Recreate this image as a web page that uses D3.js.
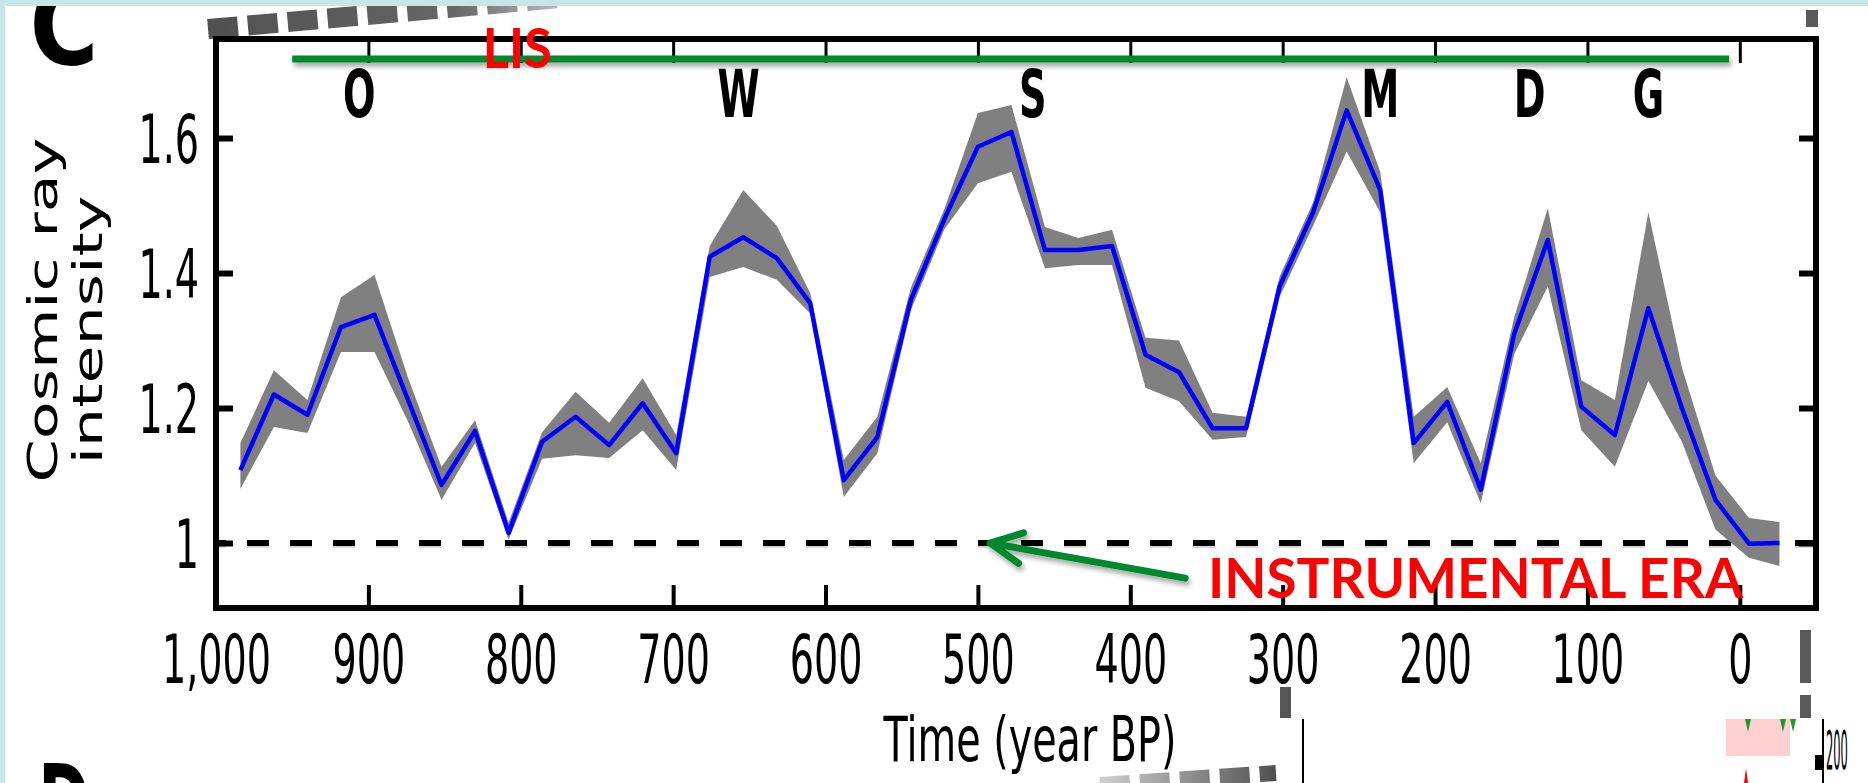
<!DOCTYPE html>
<html>
<head>
<meta charset="utf-8">
<script src="https://cdn.jsdelivr.net/npm/d3@7"></script>
<style>
  html, body { margin: 0; padding: 0; background: #fff; }
  svg { display: block; }
</style>
</head>
<body>
<div id="app"></div>
<script>
// ---- data ----
const years = [984, 962, 940, 918, 896, 874, 852, 830, 808, 786, 764, 742, 720, 698,
  676, 654, 632, 610, 588, 566, 544, 522, 500, 478, 456, 434, 412, 390, 368, 346,
  324, 302, 280, 258, 236, 214, 192, 170, 148, 126, 104, 82, 60, 38, 16, -6, -26];
const intensity = [1.108, 1.220, 1.190, 1.320, 1.338, 1.212, 1.086, 1.166, 1.015, 1.150,
  1.187, 1.145, 1.207, 1.133, 1.424, 1.453, 1.422, 1.355, 1.093, 1.157, 1.360, 1.480,
  1.587, 1.609, 1.434, 1.434, 1.440, 1.279, 1.253, 1.170, 1.170, 1.380, 1.490, 1.641,
  1.523, 1.148, 1.209, 1.079, 1.310, 1.449, 1.202, 1.160, 1.348, 1.200, 1.064, 0.999, 1.000];
const lower = [1.080, 1.172, 1.163, 1.283, 1.283, 1.180, 1.064, 1.148, 1.005, 1.125,
  1.130, 1.126, 1.167, 1.108, 1.394, 1.409, 1.390, 1.340, 1.068, 1.133, 1.345, 1.465,
  1.533, 1.550, 1.407, 1.412, 1.412, 1.230, 1.210, 1.153, 1.157, 1.365, 1.470, 1.580,
  1.490, 1.118, 1.179, 1.059, 1.280, 1.380, 1.167, 1.113, 1.240, 1.150, 1.020, 0.978, 0.966];
const upper = [1.148, 1.256, 1.212, 1.364, 1.397, 1.245, 1.113, 1.182, 1.030, 1.164,
  1.224, 1.178, 1.244, 1.160, 1.440, 1.523, 1.470, 1.370, 1.123, 1.187, 1.378, 1.495,
  1.637, 1.649, 1.468, 1.452, 1.464, 1.304, 1.300, 1.193, 1.187, 1.395, 1.505, 1.690,
  1.550, 1.187, 1.231, 1.118, 1.335, 1.496, 1.241, 1.212, 1.490, 1.260, 1.100, 1.037, 1.031];

const xTicks = [1000, 900, 800, 700, 600, 500, 400, 300, 200, 100, 0];
const yTicks = [1, 1.2, 1.4, 1.6];

// grand solar minima letters (Oort, Wolf, Sporer, Maunder, Dalton, Gleissberg)
const minimaNames = ["O", "W", "S", "M", "D", "G"];
const minimaYears = [906, 657, 464, 236, 138, 60];
const minimaLevel = 1.631;

const lisYears = [950, 7];
const lisLevel = 1.717;
const lisTextAt = [825, 1.704];
const instrumentalTextAt = [349, 0.919];
const arrowTail = [364, 0.948];
const arrowTip = [492, 1.0];
const referenceLevel = 1;

const d3 = window.d3;

const screen = { width: 1868, height: 783 };
const plot = { left: 216, right: 1816, top: 39, bottom: 608 };
const squeeze = 0.56;
const green = "#05882e";

const x = d3.scaleLinear().domain([1000, -50]).range([plot.left, plot.right]);
const y = d3.scaleLinear().domain([0.9037, 1.7467]).range([plot.bottom, plot.top]);

const svg = d3.select("#app").append("svg")
  .attr("width", screen.width)
  .attr("height", screen.height)
  .attr("font-family", "DejaVu Sans, sans-serif");

const defs = svg.append("defs");
defs.append("filter")
  .attr("id", "shadow")
  .attr("filterUnits", "userSpaceOnUse")
  .attr("x", 0).attr("y", 0).attr("width", screen.width).attr("height", screen.height)
  .append("feDropShadow")
  .attr("dx", 2).attr("dy", 4).attr("stdDeviation", 2.5)
  .attr("flood-color", "#000").attr("flood-opacity", 0.35);

const fadeTop = defs.append("linearGradient").attr("id", "fadeTop")
  .attr("gradientUnits", "userSpaceOnUse")
  .attr("x1", 210).attr("y1", 0).attr("x2", 560).attr("y2", 0);
fadeTop.append("stop").attr("offset", 0).attr("stop-color", "#505050");
fadeTop.append("stop").attr("offset", 0.7).attr("stop-color", "#666");
fadeTop.append("stop").attr("offset", 1).attr("stop-color", "#bbb");

const fadeBottom = defs.append("linearGradient").attr("id", "fadeBottom")
  .attr("gradientUnits", "userSpaceOnUse")
  .attr("x1", 1100).attr("y1", 0).attr("x2", 1275).attr("y2", 0);
fadeBottom.append("stop").attr("offset", 0).attr("stop-color", "#d0d0d0");
fadeBottom.append("stop").attr("offset", 1).attr("stop-color", "#505050");

// ---- bits of the neighbouring panels ----
svg.append("line")
  .attr("x1", 208).attr("y1", 29).attr("x2", 560).attr("y2", -2)
  .attr("stroke", "url(#fadeTop)").attr("stroke-width", 20)
  .attr("stroke-dasharray", "30 10");

svg.append("text")
  .attr("transform", "translate(64,64) scale(0.84,1)")
  .attr("text-anchor", "middle")
  .attr("font-size", 112)
  .attr("font-weight", "bold")
  .text("C");

svg.append("text")
  .attr("transform", "translate(64,836) scale(0.62,1)")
  .attr("text-anchor", "middle")
  .attr("font-size", 100)
  .attr("font-weight", "bold")
  .text("D");

svg.append("rect").attr("x", 1806).attr("y", 10).attr("width", 12).attr("height", 17).attr("fill", "#5a5a5a");

const below = svg.append("g");
below.append("line")
  .attr("x1", 1100).attr("y1", 785).attr("x2", 1276).attr("y2", 773)
  .attr("stroke", "url(#fadeBottom)").attr("stroke-width", 16)
  .attr("stroke-dasharray", "30 10");
below.append("rect").attr("x", 1280).attr("y", 687).attr("width", 11).attr("height", 31).attr("fill", "#555");
below.append("line").attr("x1", 1303).attr("y1", 719).attr("x2", 1303).attr("y2", 783)
  .attr("stroke", "#000").attr("stroke-width", 2);
below.append("rect").attr("x", 1800).attr("y", 630).attr("width", 11).attr("height", 53).attr("fill", "#5a5a5a");
below.append("rect").attr("x", 1800).attr("y", 695).attr("width", 11).attr("height", 23).attr("fill", "#5a5a5a");
below.append("rect").attr("x", 1726).attr("y", 719).attr("width", 64).attr("height", 37).attr("fill", "#ffd0d0");
[1748, 1783, 1793].forEach((cx) => {
  below.append("path")
    .attr("d", `M${cx - 3},719 L${cx + 3},719 L${cx},732 Z`)
    .attr("fill", "#1f9a2a");
});
below.append("path").attr("d", "M1744,783 L1748,783 L1746,768 Z").attr("fill", "#ff0000");
below.append("line").attr("x1", 1823).attr("y1", 719).attr("x2", 1823).attr("y2", 783)
  .attr("stroke", "#000").attr("stroke-width", 2);
below.append("rect").attr("x", 1815).attr("y", 755).attr("width", 8).attr("height", 15).attr("fill", "#000");
below.append("text")
  .attr("transform", "translate(1826,769) scale(0.26,1.2)")
  .attr("font-size", 44)
  .text("200");

// ---- chart ----
const chart = svg.append("g");

// reference level (instrumental era)
chart.append("line")
  .attr("x1", plot.left).attr("x2", plot.right)
  .attr("y1", y(referenceLevel) + 3).attr("y2", y(referenceLevel) + 3)
  .attr("stroke", "#d8d8d8").attr("stroke-width", 4)
  .attr("stroke-dasharray", "22 21").attr("stroke-dashoffset", 12);
chart.append("line")
  .attr("x1", plot.left).attr("x2", plot.right)
  .attr("y1", y(referenceLevel)).attr("y2", y(referenceLevel))
  .attr("stroke", "#000").attr("stroke-width", 6)
  .attr("stroke-dasharray", "22 21").attr("stroke-dashoffset", 12);

const band = d3.area()
  .x((d, i) => x(years[i]))
  .y0((d, i) => y(lower[i]))
  .y1((d, i) => y(upper[i]));

chart.append("path")
  .datum(intensity)
  .attr("d", band)
  .attr("fill", "#808080");

const line = d3.line()
  .x((d, i) => x(years[i]))
  .y((d) => y(d));

chart.append("path")
  .datum(intensity)
  .attr("d", line)
  .attr("fill", "none")
  .attr("stroke", "#0000ff")
  .attr("stroke-width", 4.5)
  .attr("stroke-linejoin", "round");

// axes: ticks point inwards on every side
const xAxis = svg.append("g")
  .attr("transform", `translate(0,${plot.bottom})`)
  .call(d3.axisBottom(x).tickValues(xTicks).tickFormat(d3.format(",")).tickSize(-23));
xAxis.select(".domain").remove();
xAxis.attr("font-family", "DejaVu Sans, sans-serif").attr("font-size", 68);
xAxis.selectAll(".tick line").attr("stroke-width", 4);
xAxis.selectAll(".tick text")
  .attr("y", 75).attr("dy", null)
  .attr("fill", "#000")
  .attr("transform", `scale(${squeeze},1)`);

const topAxis = svg.append("g")
  .attr("transform", `translate(0,${plot.top})`)
  .call(d3.axisTop(x).tickValues(xTicks).tickFormat("").tickSize(-24));
topAxis.select(".domain").remove();
topAxis.selectAll(".tick line").attr("stroke-width", 3);

const yAxis = svg.append("g")
  .attr("transform", `translate(${plot.left},0)`)
  .call(d3.axisLeft(y).tickValues(yTicks).tickFormat(d3.format("~g")).tickSize(-17));
yAxis.select(".domain").remove();
yAxis.attr("font-family", "DejaVu Sans, sans-serif").attr("font-size", 68);
yAxis.selectAll(".tick line").attr("stroke-width", 6);
yAxis.selectAll(".tick text")
  .attr("x", -17 / squeeze).attr("dy", "0.36em")
  .attr("fill", "#000")
  .attr("transform", `scale(${squeeze},1)`);

const rightAxis = svg.append("g")
  .attr("transform", `translate(${plot.right},0)`)
  .call(d3.axisRight(y).tickValues(yTicks).tickFormat("").tickSize(-17));
rightAxis.select(".domain").remove();
rightAxis.selectAll(".tick line").attr("stroke-width", 6);

svg.append("rect")
  .attr("x", plot.left).attr("y", plot.top)
  .attr("width", plot.right - plot.left).attr("height", plot.bottom - plot.top)
  .attr("fill", "none").attr("stroke", "#000").attr("stroke-width", 6);

// axis titles
svg.append("text")
  .attr("transform", "translate(1030,761) scale(0.64,1)")
  .attr("text-anchor", "middle")
  .attr("font-size", 62)
  .text("Time (year BP)");

svg.append("text")
  .attr("transform", "translate(57,310) rotate(-90) scale(1,0.66)")
  .attr("text-anchor", "middle")
  .attr("font-size", 62)
  .text("Cosmic ray");
svg.append("text")
  .attr("transform", "translate(102,330) rotate(-90) scale(1,0.66)")
  .attr("text-anchor", "middle")
  .attr("font-size", 62)
  .text("intensity");

// LIS bar and label
svg.append("line")
  .attr("x1", x(lisYears[0])).attr("x2", x(lisYears[1]))
  .attr("y1", y(lisLevel)).attr("y2", y(lisLevel))
  .attr("stroke", green).attr("stroke-width", 7)
  .attr("filter", "url(#shadow)");

svg.append("text")
  .attr("x", x(lisTextAt[0])).attr("y", y(lisTextAt[1]))
  .attr("font-family", "Lato, 'Open Sans', sans-serif")
  .attr("font-weight", "bold")
  .attr("font-size", 56)
  .attr("fill", "#ff0000")
  .attr("textLength", 69)
  .attr("lengthAdjust", "spacingAndGlyphs")
  .text("LIS");

// minima letters
svg.append("g")
  .selectAll("text")
  .data(minimaNames)
  .join("text")
  .attr("transform", (d, i) => `translate(${x(minimaYears[i])},${y(minimaLevel)}) scale(0.58,1)`)
  .attr("text-anchor", "middle")
  .attr("font-weight", "bold")
  .attr("font-size", 66)
  .text((d) => d);

// instrumental era arrow + label
const tip = [x(arrowTip[0]), y(arrowTip[1])];
const tail = [x(arrowTail[0]), y(arrowTail[1])];
const shaftAngle = Math.atan2(tail[1] - tip[1], tail[0] - tip[0]);
const barb = (a) => [tip[0] + 35 * Math.cos(shaftAngle + a), tip[1] + 35 * Math.sin(shaftAngle + a)];
const b1 = barb(-0.47), b2 = barb(0.44);
svg.append("path")
  .attr("d", `M${tail[0]},${tail[1]} L${tip[0]},${tip[1]} M${b1[0]},${b1[1]} L${tip[0]},${tip[1]} L${b2[0]},${b2[1]}`)
  .attr("fill", "none")
  .attr("stroke", green)
  .attr("stroke-width", 7)
  .attr("stroke-linecap", "round")
  .attr("stroke-linejoin", "round")
  .attr("filter", "url(#shadow)");

svg.append("text")
  .attr("x", x(instrumentalTextAt[0])).attr("y", y(instrumentalTextAt[1]))
  .attr("font-family", "Lato, 'Open Sans', sans-serif")
  .attr("font-weight", "bold")
  .attr("font-size", 56)
  .attr("fill", "#ff0000")
  .attr("textLength", 535)
  .attr("lengthAdjust", "spacingAndGlyphs")
  .text("INSTRUMENTAL ERA");

// light page edge
svg.append("rect").attr("x", 0).attr("y", 0).attr("width", screen.width).attr("height", 6).attr("fill", "#c8e6ea");
svg.append("rect").attr("x", 0).attr("y", 0).attr("width", 5).attr("height", screen.height).attr("fill", "#c8e6ea");
</script>
</body>
</html>
